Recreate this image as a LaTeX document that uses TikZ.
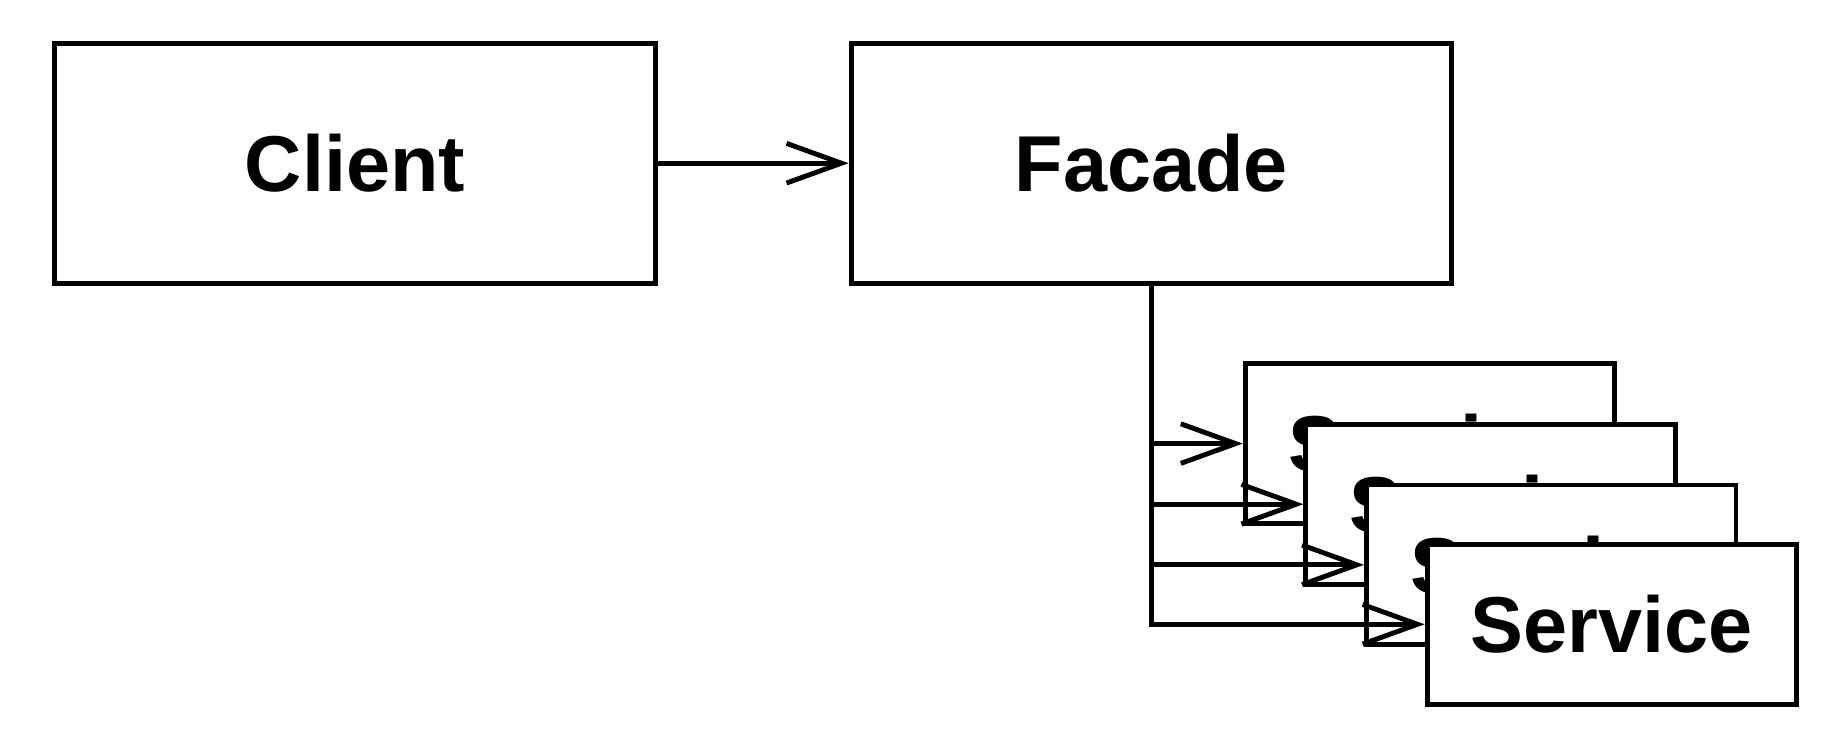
\documentclass[tikz,border=0pt]{standalone}
\usepackage{fontspec}
\setmainfont{Liberation Sans}
\usetikzlibrary{arrows.meta}
\begin{document}
\begin{tikzpicture}[x=0.5pt,y=-0.5pt,
  box/.style={draw=black, fill=white, line width=2.1pt, inner sep=0pt,
    font=\fontsize{34}{40}\selectfont\bfseries},
  bigbox/.style={box, minimum width=257.5pt, minimum height=103pt},
  servicebox/.style={box, minimum width=158.5pt, minimum height=68.5pt, anchor=west},
  conn/.style={line width=2.1pt},
  arr/.style={conn, -{Straight Barb[length=23.5pt, width=17pt, line width=2.1pt]}}]
\useasboundingbox (0,0) rectangle (1568,635);
\node[bigbox] (client) at (304.5,140) {Client};
\node[bigbox] (facade) at (987.5,140) {Facade};
\draw[arr] (client.east) -- (facade.west);
\coordinate (w1) at (1066,380.5);
\coordinate (w2) at (1118,432.5);
\coordinate (w3) at (1170,484.5);
\coordinate (w4) at (1222,535.5);
\draw[conn] (facade.south) -- (facade.south |- w4) -- (w4);
\draw[arr] (facade.south |- w1) -- (w1);
\node[servicebox] (s1) at (w1) {Service};
\draw[arr] (facade.south |- w2) -- (w2);
\node[servicebox] (s2) at (w2) {Service};
\draw[arr] (facade.south |- w3) -- (w3);
\node[servicebox] (s3) at (w3) {Service};
\draw[arr] (facade.south |- w4) -- (w4);
\node[servicebox] (s4) at (w4) {Service};
\end{tikzpicture}
\end{document}
